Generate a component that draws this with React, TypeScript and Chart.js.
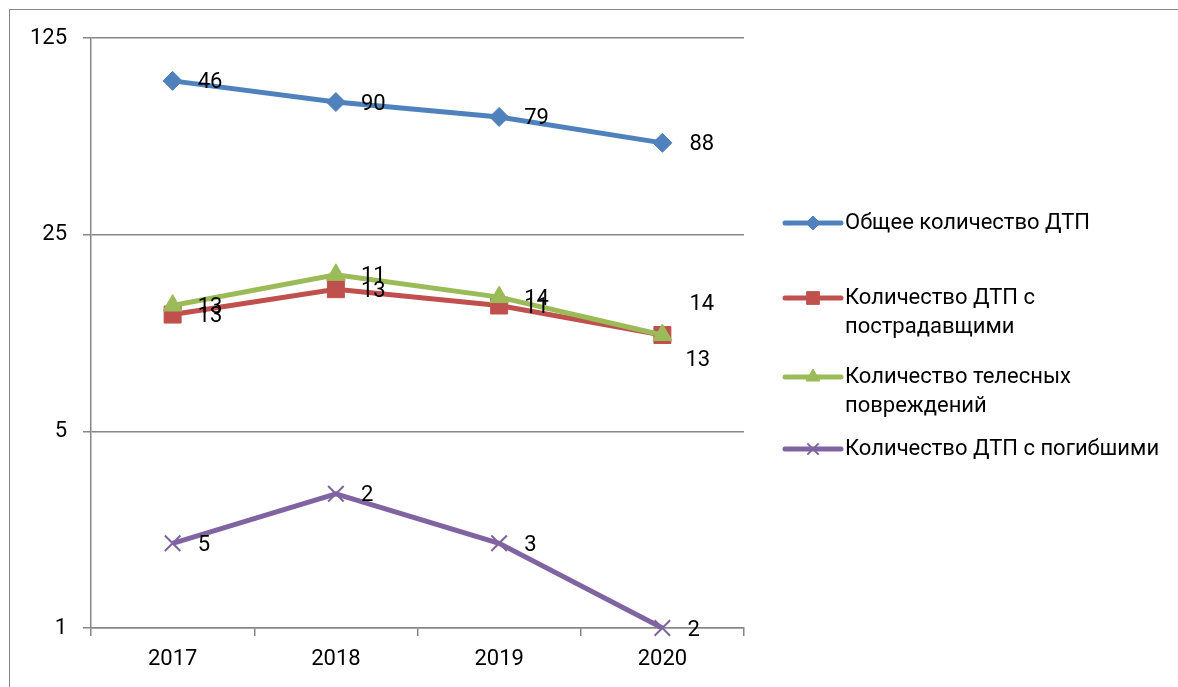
import React, { useEffect, useRef } from "react";
import { Chart, registerables } from "chart.js";
import { drawPoint } from "chart.js/helpers";

Chart.register(...registerables);

const categories = ["2017", "2018", "2019", "2020"];
const seriesNames = [
  "Общее количество ДТП",
  "Количество ДТП с пострадавщими",
  "Количество телесных повреждений",
  "Количество ДТП с погибшими",
];
const legendLines = [
  ["Общее количество ДТП"],
  ["Количество ДТП с", "пострадавщими"],
  ["Количество телесных", "повреждений"],
  ["Количество ДТП с погибшими"],
];
const totalValues = [88, 74, 65.5, 53];
const injuredValues = [13, 16, 14, 11];
const bodilyValues = [14, 18, 15, 11];
const fatalValues = [2, 3, 2, 1];
const totalLabels = ["46", "90", "79", "88"];
const injuredLabels = ["13", "13", "11", "13"];
const bodilyLabels = ["13", "11", "14", "14"];
const fatalLabels = ["5", "2", "3", "2"];
const yTicks = [1, 5, 25, 125];

const FONT = "Roboto";
const FS = 22;
const GRID = "#878787";

export default function App() {
  const ref = useRef<HTMLCanvasElement>(null);

  useEffect(() => {
    if (!ref.current) return;

    const pointLabelPlugin = {
      id: "pointLabels",
      afterDatasetsDraw(chart: any) {
        const ctx = chart.ctx;
        ctx.save();
        ctx.font = `${FS}px ${FONT}`;
        ctx.fillStyle = "#000";
        ctx.textAlign = "left";
        ctx.textBaseline = "middle";
        chart.data.datasets.forEach((ds: any, i: number) => {
          const meta = chart.getDatasetMeta(i);
          const offs = ds.labelOffsets || {};
          meta.data.forEach((pt: any, j: number) => {
            const o = offs[j] || [25, 2];
            ctx.fillText(ds.pointLabels[j], pt.x + o[0], pt.y + o[1]);
          });
        });
        ctx.restore();
      },
    };

    const sideLegendPlugin = {
      id: "sideLegend",
      afterDraw(chart: any) {
        const ctx = chart.ctx;
        const area = chart.chartArea;
        const rows = [223, 298, 377, 449];
        const lineH = 29;
        const x0 = area.right + 41;
        const x1 = x0 + 56;
        const tx = x1 + 4;
        ctx.save();
        chart.data.datasets.forEach((ds: any, i: number) => {
          const y = rows[i];
          ctx.strokeStyle = ds.borderColor;
          ctx.lineWidth = 5;
          ctx.lineCap = "round";
          ctx.beginPath();
          ctx.moveTo(x0, y);
          ctx.lineTo(x1, y);
          ctx.stroke();
          ctx.fillStyle = ds.pointBackgroundColor;
          ctx.strokeStyle = ds.pointBorderColor;
          ctx.lineWidth = ds.pointBorderWidth;
          ctx.lineCap = "butt";
          drawPoint(
            ctx,
            { pointStyle: ds.pointStyle, radius: ds.legendRadius, rotation: 0, borderWidth: ds.pointBorderWidth },
            (x0 + x1) / 2,
            y
          );
          ctx.fillStyle = "#000";
          ctx.font = `${FS}px ${FONT}`;
          ctx.textAlign = "left";
          ctx.textBaseline = "middle";
          legendLines[i].forEach((ln, k) => ctx.fillText(ln, tx, y + k * lineH));
        });
        ctx.restore();
      },
    };

    const mk = (idx: number, data: number[], color: string, style: string, radius: number, legendRadius: number, labels: string[], extra: any = {}) => ({
      label: seriesNames[idx],
      data,
      order: 4 - idx,
      borderColor: color,
      backgroundColor: color,
      pointBackgroundColor: color,
      pointBorderColor: color,
      pointStyle: style,
      pointRadius: radius,
      pointBorderWidth: style === "crossRot" ? 2 : 1,
      borderWidth: 5,
      tension: 0,
      clip: false,
      legendRadius,
      pointLabels: labels,
      ...extra,
    });

    const chart = new Chart(ref.current, {
      type: "line",
      data: {
        labels: categories,
        datasets: [
          mk(0, totalValues, "#4F81BD", "rectRot", 9.5, 7, totalLabels, { labelOffsets: { 3: [27, 2] } }),
          mk(1, injuredValues, "#C0504D", "rect", 12, 9, injuredLabels, { labelOffsets: { 3: [23, 26] } }),
          mk(2, bodilyValues, "#9BBB59", "triangle", 11, 8, bodilyLabels, { labelOffsets: { 3: [27, -30] } }),
          mk(3, fatalValues, "#8064A2", "crossRot", 11, 8, fatalLabels),
        ] as any,
      },
      options: {
        animation: false,
        responsive: false,
        layout: { padding: { left: 0, top: 38, right: 434, bottom: 0 } },
        plugins: { legend: { display: false }, tooltip: { enabled: false } },
        scales: {
          x: {
            type: "category",
            offset: true,
            grid: { display: true, drawOnChartArea: false, drawTicks: true, tickLength: 8, color: GRID, lineWidth: 1.5, offset: true },
            border: { display: true, color: GRID, width: 1.5 },
            ticks: { font: { family: FONT, size: FS }, color: "#000", padding: 10 },
            afterFit(s: any) {
              s.height = 59;
            },
          },
          y: {
            type: "logarithmic",
            min: 1,
            max: 125,
            afterBuildTicks(s: any) {
              s.ticks = yTicks.map((v) => ({ value: v }));
            },
            grid: { color: GRID, lineWidth: 1.5, tickLength: 8 },
            border: { display: true, color: GRID, width: 1.5 },
            ticks: {
              font: { family: FONT, size: FS },
              color: "#000",
              padding: 16,
              callback: (v: any) => String(v),
            },
            afterFit(s: any) {
              s.width = 91;
            },
          },
        },
      } as any,
      plugins: [pointLabelPlugin, sideLegendPlugin],
    });
    return () => chart.destroy();
  }, []);

  return (
    <div style={{ position: "fixed", left: 0, top: 0, width: 1178, height: 687, overflow: "hidden", background: "#fff" }}>
      <div style={{ position: "absolute", left: 9, top: 9, width: 1300, height: 800, border: "1px solid #868686" }} />
      <canvas ref={ref} width={1178} height={687} style={{ position: "absolute", left: 0, top: 0, width: 1178, height: 687 }} />
    </div>
  );
}
